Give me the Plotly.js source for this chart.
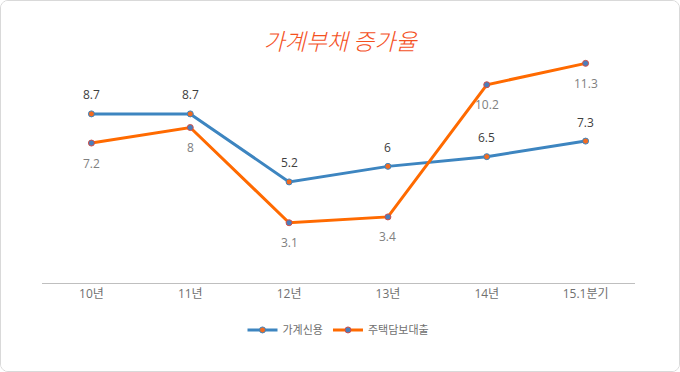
<!DOCTYPE html>
<html><head><meta charset="utf-8">
<script src="https://cdn.plot.ly/plotly-3.0.1.min.js"></script>
<style>
html,body{margin:0;padding:0;background:#fff;}
#wrap{width:678px;height:370px;border:1px solid #d9d9d9;border-radius:8px;overflow:hidden;}
#chart{width:678px;height:370px;}
</style></head>
<body><div id="wrap"><div id="chart"></div></div>
<script>
const categories = ['10년','11년','12년','13년','14년','15.1분기'];
const household = [8.7, 8.7, 5.2, 6, 6.5, 7.3];
const mortgage = [7.2, 8, 3.1, 3.4, 10.2, 11.3];
const names = ['가계신용','주택담보대출'];

const font = '"Open Sans", "Noto Sans CJK KR", sans-serif';
const traces = [
  {x: categories, y: household, name: names[0], type:'scatter', mode:'lines+markers',
   line:{color:'#3d85c0', width:3}, marker:{color:'#f26b21', size:6, line:{color:'#3d85c0', width:1}}},
  {x: categories, y: mortgage, name: names[1], type:'scatter', mode:'lines+markers',
   line:{color:'#ff6a00', width:3}, marker:{color:'#4a7ebb', size:6, line:{color:'#d0504a', width:1}}}
];
const annotations = [];
categories.forEach((c,i)=>{
  annotations.push({x:c, y:household[i], text:String(household[i]), showarrow:false, yshift:19,
    font:{family:font, size:12, color:'#404040'}});
  annotations.push({x:c, y:mortgage[i], text:String(mortgage[i]), showarrow:false, yshift:-20,
    font:{family:font, size:12, color:'#808080'}});
});
const layout = {
  width:678, height:370,
  margin:{l:40.5, r:43.5, t:40, b:88},
  paper_bgcolor:'#fff', plot_bgcolor:'#fff',
  title:{text:'가계부채 증가율', x:0.5, xanchor:'center', y:0.888, yanchor:'middle',
    font:{family:'"Noto Sans CJK KR", sans-serif', size:23, color:'#f4511e', style:'italic', weight:300}},
  xaxis:{type:'category', range:[-0.5,5.5], showgrid:false, zeroline:false, showline:true,
    linecolor:'#bfbfbf', linewidth:1, ticks:'', tickfont:{family:font, size:12, color:'#707070'}},
  yaxis:{range:[0,12.45], visible:false, showgrid:false, zeroline:false},
  showlegend:true,
  legend:{orientation:'h', x:0.5, xanchor:'center', y:-0.194, yanchor:'middle', itemwidth:30,
    font:{family:font, size:11, color:'#707070'}},
  annotations: annotations
};
Plotly.newPlot('chart', traces, layout, {displayModeBar:false, staticPlot:true});
</script></body></html>
